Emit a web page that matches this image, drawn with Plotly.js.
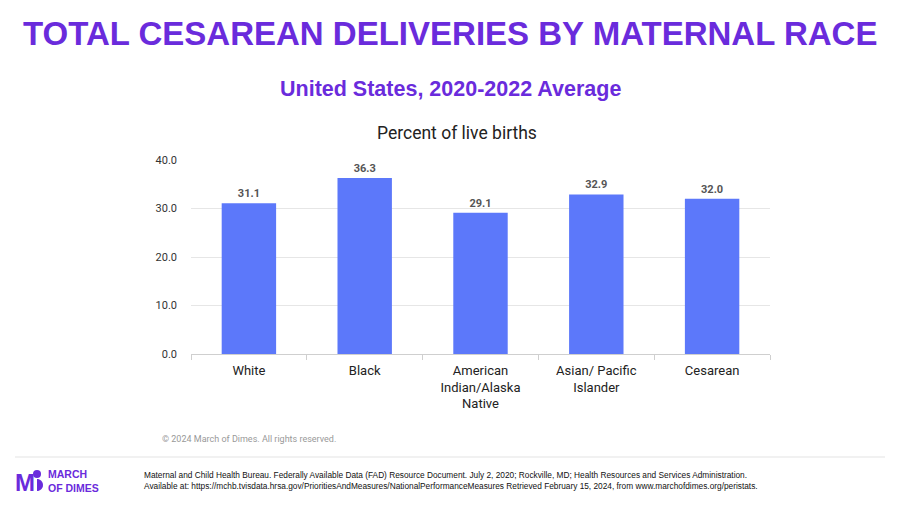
<!DOCTYPE html>
<html>
<head>
<meta charset="utf-8">
<script src="https://cdn.plot.ly/plotly-3.0.1.min.js"></script>
<style>html,body{margin:0;padding:0;background:#fff;}#chart{width:900px;height:506px;}</style>
</head>
<body>
<div id="chart"></div>
<script>
const categories = ["White", "Black", "American<br>Indian/Alaska<br>Native", "Asian/ Pacific<br>Islander", "Cesarean"];
const values = [31.1, 36.3, 29.1, 32.9, 32.0];
const yTicks = [0, 10, 20, 30, 40];
const yTickLabels = ["0.0", "10.0", "20.0", "30.0", "40.0"];

const purple = "#6a2bdc";
const barColor = "#5c78fa";

const trace = {
  type: "bar",
  x: categories,
  y: values,
  marker: {color: barColor},
  text: values.map(v => v.toFixed(1)),
  textposition: "outside",
  textfont: {family: "Roboto, Arial, sans-serif", size: 11, color: "#555", weight: "bold"},
  cliponaxis: false,
  hoverinfo: "skip"
};

const layout = {
  width: 900, height: 506,
  margin: {l: 191, r: 130, t: 160, b: 152},
  paper_bgcolor: "#fff", plot_bgcolor: "#fff",
  showlegend: false,
  bargap: 0.53,
  font: {family: "Roboto, Arial, sans-serif", color: "#222"},
  xaxis: {
    type: "category",
    tickson: "boundaries",
    ticks: "outside", ticklen: 5, tickcolor: "#cfcfcf",
    showline: true, linecolor: "#cfcfcf", linewidth: 1,
    showgrid: false,
    ticklabelstandoff: 4,
    tickfont: {size: 13, color: "#222"}
  },
  yaxis: {
    range: [0, 40],
    tickvals: yTicks, ticktext: yTickLabels,
    showgrid: true, gridcolor: "#e6e6e6",
    zeroline: false, showline: false,
    ticks: "", ticklabelstandoff: 13,
    tickfont: {size: 11, color: "#333"}
  },
  annotations: [
    {text: "<b>TOTAL CESAREAN DELIVERIES BY MATERNAL RACE</b>", xref: "paper", yref: "paper",
     x: 0.5, y: 1, xanchor: "center", yanchor: "middle", showarrow: false,
     font: {family: "Liberation Sans, Arial, sans-serif", size: 33, color: purple}},
    {text: "<b>United States, 2020-2022 Average</b>", xref: "paper", yref: "paper",
     x: 0.5, y: 1, xanchor: "center", yanchor: "middle", showarrow: false,
     font: {family: "Liberation Sans, Arial, sans-serif", size: 21.5, color: purple}},
    {text: "Percent of live births", xref: "paper", yref: "paper",
     x: 0.5, y: 1, xanchor: "center", yanchor: "middle", showarrow: false,
     font: {family: "Roboto, Arial, sans-serif", size: 17.5, color: "#222"}},
    {text: "© 2024 March of Dimes. All rights reserved.", xref: "paper", yref: "paper",
     x: 0, y: 0, xanchor: "left", yanchor: "middle", showarrow: false,
     font: {family: "Roboto, Arial, sans-serif", size: 9, color: "#999"}},
    {text: "Maternal and Child Health Bureau. Federally Available Data (FAD) Resource Document. July 2, 2020; Rockville, MD; Health Resources and Services Administration.<br>Available at: https://mchb.tvisdata.hrsa.gov/PrioritiesAndMeasures/NationalPerformanceMeasures Retrieved February 15, 2024, from www.marchofdimes.org/peristats.",
     xref: "paper", yref: "paper", x: 0, y: 0, xanchor: "left", yanchor: "middle", align: "left", showarrow: false,
     font: {family: "Liberation Sans Narrow, Arial Narrow, sans-serif", size: 8.3, color: "#111"}},
    {text: "<b>M</b>", xref: "paper", yref: "paper", x: 0, y: 0, xanchor: "left", yanchor: "middle", showarrow: false,
     font: {family: "Liberation Sans, Arial, sans-serif", size: 24, color: purple}},
    {text: "<b>MARCH<br>OF DIMES</b>", xref: "paper", yref: "paper", x: 0, y: 0, xanchor: "left", yanchor: "middle", align: "left", showarrow: false,
     font: {family: "Liberation Sans Narrow, Arial Narrow, sans-serif", size: 10.5, color: purple}}
  ],
  shapes: [
    {type: "line", xref: "paper", yref: "paper", x0: 0, x1: 1, y0: 0, y1: 0, line: {color: "#e3e3e3", width: 1}},
    {type: "circle", xref: "paper", yref: "paper", x0: 0, x1: 0, y0: 0, y1: 0, fillcolor: purple, line: {width: 0}},
    {type: "path", xref: "paper", yref: "paper", path: "", fillcolor: purple, line: {width: 0}}
  ]
};

// Convert pixel positions on the page into paper coordinates
const pw = 900 - 191 - 130, ph = 506 - 160 - 152;
const px = x => (x - 191) / pw;
const py = y => (506 - 152 - y) / ph;

const A = layout.annotations;
A[0].x = px(450); A[0].y = py(33);
A[1].x = px(450); A[1].y = py(89);
A[2].x = px(457); A[2].y = py(133);
A[3].x = px(160); A[3].y = py(439);
A[4].x = px(142); A[4].y = py(480);
A[5].x = px(13); A[5].y = py(482);
A[6].x = px(46); A[6].y = py(481);

const S = layout.shapes;
S[0].x0 = px(15); S[0].x1 = px(885); S[0].y0 = py(457); S[0].y1 = py(457);
S[1].x0 = px(33); S[1].x1 = px(41); S[1].y0 = py(478); S[1].y1 = py(470);
// half-disc of the logo
const cx = px(37), cy = py(485), rx = 6 / pw, ry = 6 / ph;
let path = `M ${cx} ${cy + ry}`;
for (let i = 0; i <= 16; i++) {
  const a = Math.PI / 2 - Math.PI * i / 16;
  path += ` L ${cx + rx * Math.cos(a)} ${cy + ry * Math.sin(a)}`;
}
path += " Z";
S[2].path = path;

Plotly.newPlot("chart", [trace], layout, {displayModeBar: false, staticPlot: true});
</script>
</body>
</html>
